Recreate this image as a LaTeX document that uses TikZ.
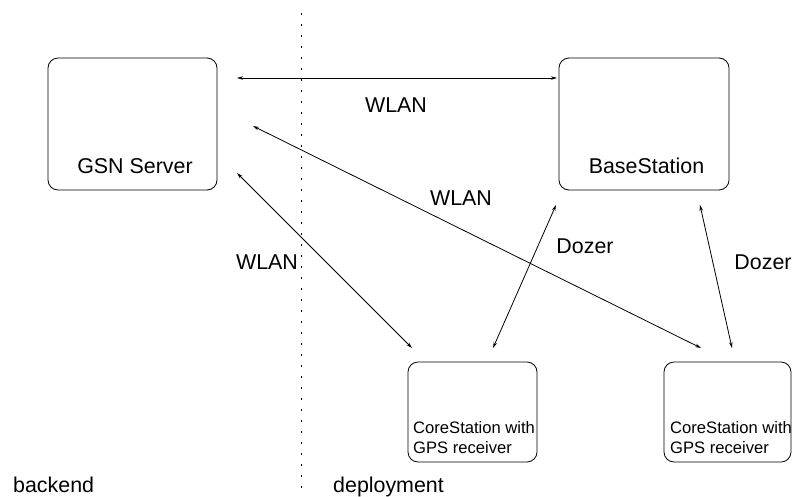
\documentclass[tikz,border=0pt]{standalone}
\usepackage{fontspec}
\setmainfont{Liberation Sans}
\usetikzlibrary{arrows.meta}
\begin{document}
\begin{tikzpicture}[x=1pt,y=-1pt,
  box/.style={draw, line width=0.8pt, rounded corners=10pt, inner sep=0pt},
  big/.style={font=\fontsize{21.4}{24}\selectfont, inner sep=0pt},
  small/.style={font=\fontsize{16.6}{19.5}\selectfont, inner sep=0pt, align=left},
  link/.style={line width=0.8pt, {Stealth[length=6pt,width=3.5pt]}-{Stealth[length=6pt,width=3.5pt]}},
  sep/.style={line width=1pt, dash pattern=on 2pt off 9pt}]
\useasboundingbox (0,0) rectangle (792,496);
% boxes
\node[box, minimum width=169pt, minimum height=132pt] (gsn) at (132.5,124) {};
\node[box, minimum width=170pt, minimum height=132pt] (base) at (644,124) {};
\node[box, minimum width=129pt, minimum height=100pt] (core1) at (472.5,412) {};
\node[box, minimum width=127pt, minimum height=100pt] (core2) at (727.5,412) {};
% box texts
\node[big] (gsnt) at (135,166) {GSN Server};
\node[big] (baset) at (646.5,166) {BaseStation};
\node[small, anchor=west] (core1t) at (413,437.5) {CoreStation with\\GPS receiver};
\node[small, anchor=west] (core2t) at (670,437.5) {CoreStation with\\GPS receiver};
% separator
\coordinate (septop) at (301,13);
\coordinate (sepbot) at (301,496);
\draw[sep] (septop) -- (sepbot);
% region labels
\node[big, anchor=base west] (backend) at (13,492) {backend};
\node[big, anchor=base west] (deploy) at (333,492) {deployment};
% connector end points
\coordinate (a1) at (237,78);
\coordinate (a2) at (557,78);
\coordinate (b1) at (253,126);
\coordinate (b2) at (701,348);
\coordinate (c1) at (237,173);
\coordinate (c2) at (412,348);
\coordinate (d1) at (556,205);
\coordinate (d2) at (493,348);
\coordinate (e1) at (700,205);
\coordinate (e2) at (732,348);
\draw[link] (a1) -- (a2);
\draw[link] (b1) -- (b2);
\draw[link] (c1) -- (c2);
\draw[link] (d1) -- (d2);
\draw[link] (e1) -- (e2);
% connector labels
\node[big] (l1) at (396,105) {WLAN};
\node[big] (l2) at (461,198) {WLAN};
\node[big] (l3) at (267,262) {WLAN};
\node[big] (l4) at (585,246) {Dozer};
\node[big] (l5) at (763,262) {Dozer};
\end{tikzpicture}
\end{document}
